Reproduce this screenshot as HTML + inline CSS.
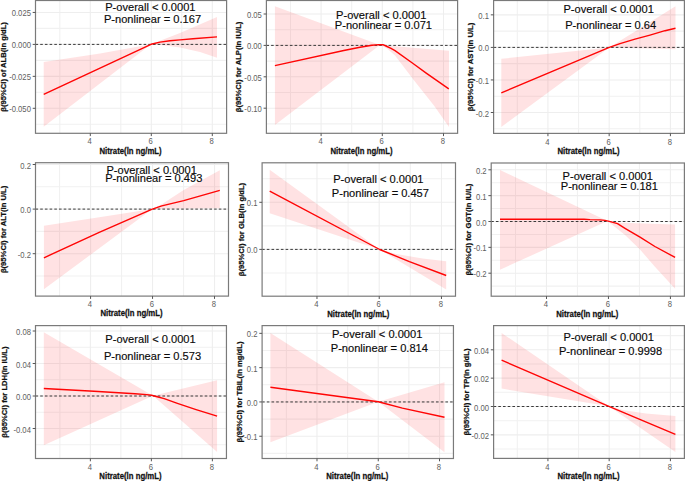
<!DOCTYPE html>
<html><head><meta charset="utf-8"><style>
html,body{margin:0;padding:0;background:#fff;width:685px;height:481px;overflow:hidden}
svg{display:block}
text{font-family:"Liberation Sans",sans-serif}
.gm{stroke:#f1f1f1;stroke-width:1.1}
.gM{stroke:#eeeeee;stroke-width:1.1}
.rb{fill:#ff0008;fill-opacity:0.115;stroke:none}
.dash{stroke:#3a3a3a;stroke-width:1;stroke-dasharray:2.6 2.1}
.ln{stroke:#ff0505;stroke-width:1.4;fill:none;stroke-linejoin:round}
.bd{fill:none;stroke:#7a7a7a;stroke-width:1.2}
.tk{stroke:#555;stroke-width:1}
.yt{font-size:9.7px;fill:#606060;text-anchor:end}
.xt{font-size:9.7px;fill:#606060;text-anchor:middle}
.xl{font-size:8.6px;font-weight:bold;fill:#111;stroke:#111;stroke-width:0.25px;text-anchor:middle}
.yl{font-size:8.0px;font-weight:bold;fill:#111;stroke:#111;stroke-width:0.25px;text-anchor:middle}
.an{fill:#0a0a0a;stroke:#0a0a0a;stroke-width:0.15px;text-anchor:middle;font-size:11.1px}
</style></head>
<body><svg width="685" height="481" viewBox="0 0 685 481">
<rect width="685" height="481" fill="#fff"/>
<clipPath id="c1"><rect x="35.5" y="0.5" width="191.1" height="132.8"/></clipPath>
<g clip-path="url(#c1)">
<line x1="35.5" x2="226.6" y1="28.42" y2="28.42" class="gm"/>
<line x1="35.5" x2="226.6" y1="60.38" y2="60.38" class="gm"/>
<line x1="35.5" x2="226.6" y1="92.32" y2="92.32" class="gm"/>
<line x1="35.5" x2="226.6" y1="124.28" y2="124.28" class="gm"/>
<line y1="0.5" y2="133.3" x1="59.8" x2="59.8" class="gm"/>
<line y1="0.5" y2="133.3" x1="120.8" x2="120.8" class="gm"/>
<line y1="0.5" y2="133.3" x1="181.8" x2="181.8" class="gm"/>
<line x1="35.5" x2="226.6" y1="12.45" y2="12.45" class="gM"/>
<line x1="35.5" x2="226.6" y1="44.4" y2="44.4" class="gM"/>
<line x1="35.5" x2="226.6" y1="76.35" y2="76.35" class="gM"/>
<line x1="35.5" x2="226.6" y1="108.3" y2="108.3" class="gM"/>
<line y1="0.5" y2="133.3" x1="90.3" x2="90.3" class="gM"/>
<line y1="0.5" y2="133.3" x1="151.3" x2="151.3" class="gM"/>
<line y1="0.5" y2="133.3" x1="212.3" x2="212.3" class="gM"/>
<polygon class="rb" points="43.7,62 100,53.6 151,44.3 180,33 217,17 217,57.7 200,52 180,47.6 165,45.6 151,44.3 43.7,126.8"/>
<line x1="35.5" x2="226.6" y1="44.4" y2="44.4" class="dash"/>
<polyline class="ln" points="43.7,94.3 151,44.3 160,42.1 170,40.7 180,39.9 193,38.7 217,36.9"/>
</g>
<rect x="35.5" y="0.5" width="191.1" height="132.8" class="bd"/>
<line x1="32.7" x2="35.5" y1="12.45" y2="12.45" class="tk"/>
<text transform="translate(30.9,16.45) scale(0.79,1)" class="yt">0.025</text>
<line x1="32.7" x2="35.5" y1="44.4" y2="44.4" class="tk"/>
<text transform="translate(30.9,48.4) scale(0.79,1)" class="yt">0.000</text>
<line x1="32.7" x2="35.5" y1="76.35" y2="76.35" class="tk"/>
<text transform="translate(30.9,80.35) scale(0.79,1)" class="yt">-0.025</text>
<line x1="32.7" x2="35.5" y1="108.3" y2="108.3" class="tk"/>
<text transform="translate(30.9,112.3) scale(0.79,1)" class="yt">-0.050</text>
<line y1="133.3" y2="136.1" x1="90.3" x2="90.3" class="tk"/>
<text transform="translate(89.7,144.4) scale(0.79,1)" class="xt">4</text>
<line y1="133.3" y2="136.1" x1="151.3" x2="151.3" class="tk"/>
<text transform="translate(150.7,144.4) scale(0.79,1)" class="xt">6</text>
<line y1="133.3" y2="136.1" x1="212.3" x2="212.3" class="tk"/>
<text transform="translate(211.7,144.4) scale(0.79,1)" class="xt">8</text>
<text transform="translate(130.55,153.6) scale(0.907,1)" class="xl">Nitrate(ln ng/mL)</text>
<text transform="translate(5.9,66.9) rotate(-90) scale(0.956,1)" class="yl">β(95%CI) of ALB(ln g/dL)</text>
<text x="150.35" y="11" class="an">P-overall &lt; 0.0001</text>
<text x="152.5" y="23" class="an">P-nonlinear = 0.167</text>
<clipPath id="c2"><rect x="266.4" y="0.5" width="191.2" height="132.8"/></clipPath>
<g clip-path="url(#c2)">
<line x1="266.4" x2="457.6" y1="29.7" y2="29.7" class="gm"/>
<line x1="266.4" x2="457.6" y1="61.1" y2="61.1" class="gm"/>
<line x1="266.4" x2="457.6" y1="92.5" y2="92.5" class="gm"/>
<line x1="266.4" x2="457.6" y1="123.9" y2="123.9" class="gm"/>
<line y1="0.5" y2="133.3" x1="290.5" x2="290.5" class="gm"/>
<line y1="0.5" y2="133.3" x1="351.7" x2="351.7" class="gm"/>
<line y1="0.5" y2="133.3" x1="412.9" x2="412.9" class="gm"/>
<line x1="266.4" x2="457.6" y1="14" y2="14" class="gM"/>
<line x1="266.4" x2="457.6" y1="45.4" y2="45.4" class="gM"/>
<line x1="266.4" x2="457.6" y1="76.8" y2="76.8" class="gM"/>
<line x1="266.4" x2="457.6" y1="108.2" y2="108.2" class="gM"/>
<line y1="0.5" y2="133.3" x1="321.1" x2="321.1" class="gM"/>
<line y1="0.5" y2="133.3" x1="382.3" x2="382.3" class="gM"/>
<line y1="0.5" y2="133.3" x1="443.5" x2="443.5" class="gM"/>
<polygon class="rb" points="274.9,6.2 380,45 449,50.8 449,126.9 434.3,106 414.5,81 395,55.5 387,48.6 380,45 274.9,124.9"/>
<line x1="266.4" x2="457.6" y1="45.4" y2="45.4" class="dash"/>
<polyline class="ln" points="274.9,65.6 343.8,50.5 360,47.2 372,45.3 378.8,44.6 383,44.7 387,46.5 391,48.3 395,50.6 412.7,63.2 426.2,73.1 436.6,80.4 448.8,88.8"/>
</g>
<rect x="266.4" y="0.5" width="191.2" height="132.8" class="bd"/>
<line x1="263.6" x2="266.4" y1="14" y2="14" class="tk"/>
<text transform="translate(261.8,18) scale(0.79,1)" class="yt">0.05</text>
<line x1="263.6" x2="266.4" y1="45.4" y2="45.4" class="tk"/>
<text transform="translate(261.8,49.4) scale(0.79,1)" class="yt">0.00</text>
<line x1="263.6" x2="266.4" y1="76.8" y2="76.8" class="tk"/>
<text transform="translate(261.8,80.8) scale(0.79,1)" class="yt">-0.05</text>
<line x1="263.6" x2="266.4" y1="108.2" y2="108.2" class="tk"/>
<text transform="translate(261.8,112.2) scale(0.79,1)" class="yt">-0.10</text>
<line y1="133.3" y2="136.1" x1="321.1" x2="321.1" class="tk"/>
<text transform="translate(320.5,144.4) scale(0.79,1)" class="xt">4</text>
<line y1="133.3" y2="136.1" x1="382.3" x2="382.3" class="tk"/>
<text transform="translate(381.7,144.4) scale(0.79,1)" class="xt">6</text>
<line y1="133.3" y2="136.1" x1="443.5" x2="443.5" class="tk"/>
<text transform="translate(442.9,144.4) scale(0.79,1)" class="xt">8</text>
<text transform="translate(361.5,153.6) scale(0.907,1)" class="xl">Nitrate(ln ng/mL)</text>
<text transform="translate(240.9,66.9) rotate(-90) scale(0.956,1)" class="yl">β(95%CI) for ALP(ln IU/L)</text>
<text x="381.25" y="18.8" class="an">P-overall &lt; 0.0001</text>
<text x="383.45" y="29" class="an">P-nonlinear = 0.071</text>
<clipPath id="c3"><rect x="493.6" y="0.5" width="190.8" height="132.9"/></clipPath>
<g clip-path="url(#c3)">
<line x1="493.6" x2="684.4" y1="31.12" y2="31.12" class="gm"/>
<line x1="493.6" x2="684.4" y1="63.67" y2="63.67" class="gm"/>
<line x1="493.6" x2="684.4" y1="96.22" y2="96.22" class="gm"/>
<line x1="493.6" x2="684.4" y1="128.77" y2="128.77" class="gm"/>
<line y1="0.5" y2="133.4" x1="517.31" x2="517.31" class="gm"/>
<line y1="0.5" y2="133.4" x1="578.55" x2="578.55" class="gm"/>
<line y1="0.5" y2="133.4" x1="639.79" x2="639.79" class="gm"/>
<line x1="493.6" x2="684.4" y1="14.85" y2="14.85" class="gM"/>
<line x1="493.6" x2="684.4" y1="47.4" y2="47.4" class="gM"/>
<line x1="493.6" x2="684.4" y1="79.95" y2="79.95" class="gM"/>
<line x1="493.6" x2="684.4" y1="112.5" y2="112.5" class="gM"/>
<line y1="0.5" y2="133.4" x1="547.93" x2="547.93" class="gM"/>
<line y1="0.5" y2="133.4" x1="609.17" x2="609.17" class="gM"/>
<line y1="0.5" y2="133.4" x1="670.41" x2="670.41" class="gM"/>
<polygon class="rb" points="501.3,58.8 609.3,47.4 675.5,6.2 675.5,49.3 609.3,47.4 501.3,127"/>
<line x1="493.6" x2="684.4" y1="47.4" y2="47.4" class="dash"/>
<polyline class="ln" points="501.3,92.9 609.3,47.4 620,43.6 635,39.2 650,35.1 665,30.7 675.5,28.2"/>
</g>
<rect x="493.6" y="0.5" width="190.8" height="132.9" class="bd"/>
<line x1="490.8" x2="493.6" y1="14.85" y2="14.85" class="tk"/>
<text transform="translate(489,18.85) scale(0.79,1)" class="yt">0.1</text>
<line x1="490.8" x2="493.6" y1="47.4" y2="47.4" class="tk"/>
<text transform="translate(489,51.4) scale(0.79,1)" class="yt">0.0</text>
<line x1="490.8" x2="493.6" y1="79.95" y2="79.95" class="tk"/>
<text transform="translate(489,83.95) scale(0.79,1)" class="yt">-0.1</text>
<line x1="490.8" x2="493.6" y1="112.5" y2="112.5" class="tk"/>
<text transform="translate(489,116.5) scale(0.79,1)" class="yt">-0.2</text>
<line y1="133.4" y2="136.2" x1="547.93" x2="547.93" class="tk"/>
<text transform="translate(547.33,144.5) scale(0.79,1)" class="xt">4</text>
<line y1="133.4" y2="136.2" x1="609.17" x2="609.17" class="tk"/>
<text transform="translate(608.57,144.5) scale(0.79,1)" class="xt">6</text>
<line y1="133.4" y2="136.2" x1="670.41" x2="670.41" class="tk"/>
<text transform="translate(669.81,144.5) scale(0.79,1)" class="xt">8</text>
<text transform="translate(588.5,153.7) scale(0.907,1)" class="xl">Nitrate(ln ng/mL)</text>
<text transform="translate(472.8,66.95) rotate(-90) scale(0.956,1)" class="yl">β(95%CI) for AST(ln U/L)</text>
<text x="608.65" y="12.6" class="an">P-overall &lt; 0.0001</text>
<text x="610.7" y="29.3" class="an">P-nonlinear = 0.64</text>
<clipPath id="c4"><rect x="35.5" y="162.7" width="193" height="133.4"/></clipPath>
<g clip-path="url(#c4)">
<line x1="35.5" x2="228.5" y1="186.8" y2="186.8" class="gm"/>
<line x1="35.5" x2="228.5" y1="231.4" y2="231.4" class="gm"/>
<line x1="35.5" x2="228.5" y1="276" y2="276" class="gm"/>
<line y1="162.7" y2="296.1" x1="59.58" x2="59.58" class="gm"/>
<line y1="162.7" y2="296.1" x1="121.55" x2="121.55" class="gm"/>
<line y1="162.7" y2="296.1" x1="183.52" x2="183.52" class="gm"/>
<line x1="35.5" x2="228.5" y1="164.5" y2="164.5" class="gM"/>
<line x1="35.5" x2="228.5" y1="209.1" y2="209.1" class="gM"/>
<line x1="35.5" x2="228.5" y1="253.7" y2="253.7" class="gM"/>
<line y1="162.7" y2="296.1" x1="90.57" x2="90.57" class="gM"/>
<line y1="162.7" y2="296.1" x1="152.54" x2="152.54" class="gM"/>
<line y1="162.7" y2="296.1" x1="214.51" x2="214.51" class="gM"/>
<polygon class="rb" points="43.9,225.7 99.2,217.2 152.3,209.1 161.8,204.2 183.7,190.1 219.8,170.3 219.8,208.2 170,208.8 152.3,209.1 43.9,289.2"/>
<line x1="35.5" x2="228.5" y1="209.1" y2="209.1" class="dash"/>
<polyline class="ln" points="43.9,257.8 99.2,232.4 152.3,209.1 161.8,205.9 183.7,200.6 219.8,190.3"/>
</g>
<rect x="35.5" y="162.7" width="193" height="133.4" class="bd"/>
<line x1="32.7" x2="35.5" y1="164.5" y2="164.5" class="tk"/>
<text transform="translate(30.9,168.5) scale(0.79,1)" class="yt">0.2</text>
<line x1="32.7" x2="35.5" y1="209.1" y2="209.1" class="tk"/>
<text transform="translate(30.9,213.1) scale(0.79,1)" class="yt">0.0</text>
<line x1="32.7" x2="35.5" y1="253.7" y2="253.7" class="tk"/>
<text transform="translate(30.9,257.7) scale(0.79,1)" class="yt">-0.2</text>
<line y1="296.1" y2="298.9" x1="90.57" x2="90.57" class="tk"/>
<text transform="translate(89.97,307.2) scale(0.79,1)" class="xt">4</text>
<line y1="296.1" y2="298.9" x1="152.54" x2="152.54" class="tk"/>
<text transform="translate(151.94,307.2) scale(0.79,1)" class="xt">6</text>
<line y1="296.1" y2="298.9" x1="214.51" x2="214.51" class="tk"/>
<text transform="translate(213.91,307.2) scale(0.79,1)" class="xt">8</text>
<text transform="translate(131.5,316.4) scale(0.907,1)" class="xl">Nitrate(ln ng/mL)</text>
<text transform="translate(6.2,229.4) rotate(-90) scale(0.956,1)" class="yl">β(95%CI) for ALT(ln U/L)</text>
<text x="151.65" y="173.5" class="an">P-overall &lt; 0.0001</text>
<text x="153.8" y="182.2" class="an">P-nonlinear = 0.493</text>
<clipPath id="c5"><rect x="262.1" y="162.8" width="193.4" height="133.4"/></clipPath>
<g clip-path="url(#c5)">
<line x1="262.1" x2="455.5" y1="178.75" y2="178.75" class="gm"/>
<line x1="262.1" x2="455.5" y1="225.85" y2="225.85" class="gm"/>
<line x1="262.1" x2="455.5" y1="272.95" y2="272.95" class="gm"/>
<line y1="162.8" y2="296.2" x1="285.86" x2="285.86" class="gm"/>
<line y1="162.8" y2="296.2" x1="348.1" x2="348.1" class="gm"/>
<line y1="162.8" y2="296.2" x1="410.34" x2="410.34" class="gm"/>
<line x1="262.1" x2="455.5" y1="202.3" y2="202.3" class="gM"/>
<line x1="262.1" x2="455.5" y1="249.4" y2="249.4" class="gM"/>
<line y1="162.8" y2="296.2" x1="316.98" x2="316.98" class="gM"/>
<line y1="162.8" y2="296.2" x1="379.22" x2="379.22" class="gM"/>
<line y1="162.8" y2="296.2" x1="441.46" x2="441.46" class="gM"/>
<polygon class="rb" points="269.7,169.7 379.7,249.5 396.3,254 422.6,258.4 446.2,261.3 446.2,289.5 379.7,249.5 269.7,213.3"/>
<line x1="262.1" x2="455.5" y1="249.4" y2="249.4" class="dash"/>
<polyline class="ln" points="269.7,191.2 379.7,249.5 409.4,261.6 446.2,275.5"/>
</g>
<rect x="262.1" y="162.8" width="193.4" height="133.4" class="bd"/>
<line x1="259.3" x2="262.1" y1="202.3" y2="202.3" class="tk"/>
<text transform="translate(257.5,206.3) scale(0.79,1)" class="yt">0.1</text>
<line x1="259.3" x2="262.1" y1="249.4" y2="249.4" class="tk"/>
<text transform="translate(257.5,253.4) scale(0.79,1)" class="yt">0.0</text>
<line y1="296.2" y2="299" x1="316.98" x2="316.98" class="tk"/>
<text transform="translate(316.38,307.3) scale(0.79,1)" class="xt">4</text>
<line y1="296.2" y2="299" x1="379.22" x2="379.22" class="tk"/>
<text transform="translate(378.62,307.3) scale(0.79,1)" class="xt">6</text>
<line y1="296.2" y2="299" x1="441.46" x2="441.46" class="tk"/>
<text transform="translate(440.86,307.3) scale(0.79,1)" class="xt">8</text>
<text transform="translate(358.3,316.5) scale(0.907,1)" class="xl">Nitrate(ln ng/mL)</text>
<text transform="translate(244,229.5) rotate(-90) scale(0.956,1)" class="yl">β(95%CI) for GLB(ln g/dL)</text>
<text x="378.35" y="183.2" class="an">P-overall &lt; 0.0001</text>
<text x="380.4" y="197.2" class="an">P-nonlinear = 0.457</text>
<clipPath id="c6"><rect x="491.2" y="163" width="193.2" height="133.2"/></clipPath>
<g clip-path="url(#c6)">
<line x1="491.2" x2="684.4" y1="182.72" y2="182.72" class="gm"/>
<line x1="491.2" x2="684.4" y1="208.57" y2="208.57" class="gm"/>
<line x1="491.2" x2="684.4" y1="234.43" y2="234.43" class="gm"/>
<line x1="491.2" x2="684.4" y1="260.27" y2="260.27" class="gm"/>
<line x1="491.2" x2="684.4" y1="286.12" y2="286.12" class="gm"/>
<line y1="163" y2="296.2" x1="515.51" x2="515.51" class="gm"/>
<line y1="163" y2="296.2" x1="577.47" x2="577.47" class="gm"/>
<line y1="163" y2="296.2" x1="639.43" x2="639.43" class="gm"/>
<line x1="491.2" x2="684.4" y1="169.8" y2="169.8" class="gM"/>
<line x1="491.2" x2="684.4" y1="195.65" y2="195.65" class="gM"/>
<line x1="491.2" x2="684.4" y1="221.5" y2="221.5" class="gM"/>
<line x1="491.2" x2="684.4" y1="247.35" y2="247.35" class="gM"/>
<line x1="491.2" x2="684.4" y1="273.2" y2="273.2" class="gM"/>
<line y1="163" y2="296.2" x1="546.49" x2="546.49" class="gM"/>
<line y1="163" y2="296.2" x1="608.45" x2="608.45" class="gM"/>
<line y1="163" y2="296.2" x1="670.41" x2="670.41" class="gM"/>
<polygon class="rb" points="500,170 607.5,221 621.2,222.8 675.1,224.6 675.1,288.8 654.9,266.8 640,249.5 625,235 607.5,221 500,269.7"/>
<line x1="491.2" x2="684.4" y1="221.5" y2="221.5" class="dash"/>
<polyline class="ln" points="500,219.2 584,219.2 590,219.6 600,219.9 605,220.4 609.3,221.4 617.5,223.7 625,228.3 640,237.2 654.9,246.5 675.1,257.4"/>
</g>
<rect x="491.2" y="163" width="193.2" height="133.2" class="bd"/>
<line x1="488.4" x2="491.2" y1="169.8" y2="169.8" class="tk"/>
<text transform="translate(486.6,173.8) scale(0.79,1)" class="yt">0.2</text>
<line x1="488.4" x2="491.2" y1="195.65" y2="195.65" class="tk"/>
<text transform="translate(486.6,199.65) scale(0.79,1)" class="yt">0.1</text>
<line x1="488.4" x2="491.2" y1="221.5" y2="221.5" class="tk"/>
<text transform="translate(486.6,225.5) scale(0.79,1)" class="yt">0.0</text>
<line x1="488.4" x2="491.2" y1="247.35" y2="247.35" class="tk"/>
<text transform="translate(486.6,251.35) scale(0.79,1)" class="yt">-0.1</text>
<line x1="488.4" x2="491.2" y1="273.2" y2="273.2" class="tk"/>
<text transform="translate(486.6,277.2) scale(0.79,1)" class="yt">-0.2</text>
<line y1="296.2" y2="299" x1="546.49" x2="546.49" class="tk"/>
<text transform="translate(545.89,307.3) scale(0.79,1)" class="xt">4</text>
<line y1="296.2" y2="299" x1="608.45" x2="608.45" class="tk"/>
<text transform="translate(607.85,307.3) scale(0.79,1)" class="xt">6</text>
<line y1="296.2" y2="299" x1="670.41" x2="670.41" class="tk"/>
<text transform="translate(669.81,307.3) scale(0.79,1)" class="xt">8</text>
<text transform="translate(587.3,316.5) scale(0.907,1)" class="xl">Nitrate(ln ng/mL)</text>
<text transform="translate(470.8,229.6) rotate(-90) scale(0.956,1)" class="yl">β(95%CI) for GGT(ln IU/L)</text>
<text x="607.75" y="179.8" class="an">P-overall &lt; 0.0001</text>
<text x="609.35" y="190.4" class="an">P-nonlinear = 0.181</text>
<clipPath id="c7"><rect x="35.5" y="325.6" width="190.95" height="132.9"/></clipPath>
<g clip-path="url(#c7)">
<line x1="35.5" x2="226.45" y1="347.25" y2="347.25" class="gm"/>
<line x1="35.5" x2="226.45" y1="379.75" y2="379.75" class="gm"/>
<line x1="35.5" x2="226.45" y1="412.25" y2="412.25" class="gm"/>
<line x1="35.5" x2="226.45" y1="444.75" y2="444.75" class="gm"/>
<line y1="325.6" y2="458.5" x1="59.86" x2="59.86" class="gm"/>
<line y1="325.6" y2="458.5" x1="120.86" x2="120.86" class="gm"/>
<line y1="325.6" y2="458.5" x1="181.86" x2="181.86" class="gm"/>
<line x1="35.5" x2="226.45" y1="331" y2="331" class="gM"/>
<line x1="35.5" x2="226.45" y1="363.5" y2="363.5" class="gM"/>
<line x1="35.5" x2="226.45" y1="396" y2="396" class="gM"/>
<line x1="35.5" x2="226.45" y1="428.5" y2="428.5" class="gM"/>
<line y1="325.6" y2="458.5" x1="90.36" x2="90.36" class="gM"/>
<line y1="325.6" y2="458.5" x1="151.36" x2="151.36" class="gM"/>
<line y1="325.6" y2="458.5" x1="212.36" x2="212.36" class="gM"/>
<polygon class="rb" points="43.8,332.2 153,395.7 217.1,380.3 217.1,452.1 153,395.7 43.8,445.2"/>
<line x1="35.5" x2="226.45" y1="396" y2="396" class="dash"/>
<polyline class="ln" points="43.8,388.5 94,391.2 135,393.8 146.7,394.6 151.6,395.2 157.2,396.7 164.2,398.7 177.4,403.4 196.1,409.6 217.1,416.2"/>
</g>
<rect x="35.5" y="325.6" width="190.95" height="132.9" class="bd"/>
<line x1="32.7" x2="35.5" y1="331" y2="331" class="tk"/>
<text transform="translate(30.9,335) scale(0.79,1)" class="yt">0.08</text>
<line x1="32.7" x2="35.5" y1="363.5" y2="363.5" class="tk"/>
<text transform="translate(30.9,367.5) scale(0.79,1)" class="yt">0.04</text>
<line x1="32.7" x2="35.5" y1="396" y2="396" class="tk"/>
<text transform="translate(30.9,400) scale(0.79,1)" class="yt">0.00</text>
<line x1="32.7" x2="35.5" y1="428.5" y2="428.5" class="tk"/>
<text transform="translate(30.9,432.5) scale(0.79,1)" class="yt">-0.04</text>
<line y1="458.5" y2="461.3" x1="90.36" x2="90.36" class="tk"/>
<text transform="translate(89.76,469.6) scale(0.79,1)" class="xt">4</text>
<line y1="458.5" y2="461.3" x1="151.36" x2="151.36" class="tk"/>
<text transform="translate(150.76,469.6) scale(0.79,1)" class="xt">6</text>
<line y1="458.5" y2="461.3" x1="212.36" x2="212.36" class="tk"/>
<text transform="translate(211.76,469.6) scale(0.79,1)" class="xt">8</text>
<text transform="translate(130.47,478.8) scale(0.907,1)" class="xl">Nitrate(ln ng/mL)</text>
<text transform="translate(6.55,392.05) rotate(-90) scale(0.956,1)" class="yl">β(95%CI) for LDH(ln IU/L)</text>
<text x="150.5" y="343.3" class="an">P-overall &lt; 0.0001</text>
<text x="152.5" y="359.6" class="an">P-nonlinear = 0.573</text>
<clipPath id="c8"><rect x="262.1" y="325.6" width="191.35" height="132.9"/></clipPath>
<g clip-path="url(#c8)">
<line x1="262.1" x2="453.45" y1="350.5" y2="350.5" class="gm"/>
<line x1="262.1" x2="453.45" y1="384.8" y2="384.8" class="gm"/>
<line x1="262.1" x2="453.45" y1="419.1" y2="419.1" class="gm"/>
<line x1="262.1" x2="453.45" y1="453.4" y2="453.4" class="gm"/>
<line y1="325.6" y2="458.5" x1="286.36" x2="286.36" class="gm"/>
<line y1="325.6" y2="458.5" x1="347.62" x2="347.62" class="gm"/>
<line y1="325.6" y2="458.5" x1="408.88" x2="408.88" class="gm"/>
<line x1="262.1" x2="453.45" y1="333.35" y2="333.35" class="gM"/>
<line x1="262.1" x2="453.45" y1="367.65" y2="367.65" class="gM"/>
<line x1="262.1" x2="453.45" y1="401.95" y2="401.95" class="gM"/>
<line x1="262.1" x2="453.45" y1="436.25" y2="436.25" class="gM"/>
<line y1="325.6" y2="458.5" x1="316.99" x2="316.99" class="gM"/>
<line y1="325.6" y2="458.5" x1="378.25" x2="378.25" class="gM"/>
<line y1="325.6" y2="458.5" x1="439.51" x2="439.51" class="gM"/>
<polygon class="rb" points="270.4,333.1 378.3,401.8 444.5,382.2 444.5,452.3 378.3,401.8 270.4,442.2"/>
<line x1="262.1" x2="453.45" y1="401.95" y2="401.95" class="dash"/>
<polyline class="ln" points="270.4,387.2 378.3,401.8 402.4,408.1 444.5,417.2"/>
</g>
<rect x="262.1" y="325.6" width="191.35" height="132.9" class="bd"/>
<line x1="259.3" x2="262.1" y1="333.35" y2="333.35" class="tk"/>
<text transform="translate(257.5,337.35) scale(0.79,1)" class="yt">0.2</text>
<line x1="259.3" x2="262.1" y1="367.65" y2="367.65" class="tk"/>
<text transform="translate(257.5,371.65) scale(0.79,1)" class="yt">0.1</text>
<line x1="259.3" x2="262.1" y1="401.95" y2="401.95" class="tk"/>
<text transform="translate(257.5,405.95) scale(0.79,1)" class="yt">0.0</text>
<line x1="259.3" x2="262.1" y1="436.25" y2="436.25" class="tk"/>
<text transform="translate(257.5,440.25) scale(0.79,1)" class="yt">-0.1</text>
<line y1="458.5" y2="461.3" x1="316.99" x2="316.99" class="tk"/>
<text transform="translate(316.39,469.6) scale(0.79,1)" class="xt">4</text>
<line y1="458.5" y2="461.3" x1="378.25" x2="378.25" class="tk"/>
<text transform="translate(377.65,469.6) scale(0.79,1)" class="xt">6</text>
<line y1="458.5" y2="461.3" x1="439.51" x2="439.51" class="tk"/>
<text transform="translate(438.91,469.6) scale(0.79,1)" class="xt">8</text>
<text transform="translate(357.27,478.8) scale(0.907,1)" class="xl">Nitrate(ln ng/mL)</text>
<text transform="translate(242.15,392.05) rotate(-90) scale(0.956,1)" class="yl">β(95%CI) for TBIL(ln mg/dL)</text>
<text x="377.15" y="338.2" class="an">P-overall &lt; 0.0001</text>
<text x="379.35" y="352" class="an">P-nonlinear = 0.814</text>
<clipPath id="c9"><rect x="493.6" y="325.6" width="190.8" height="132.8"/></clipPath>
<g clip-path="url(#c9)">
<line x1="493.6" x2="684.4" y1="335.62" y2="335.62" class="gm"/>
<line x1="493.6" x2="684.4" y1="363.98" y2="363.98" class="gm"/>
<line x1="493.6" x2="684.4" y1="392.32" y2="392.32" class="gm"/>
<line x1="493.6" x2="684.4" y1="420.68" y2="420.68" class="gm"/>
<line x1="493.6" x2="684.4" y1="449.02" y2="449.02" class="gm"/>
<line y1="325.6" y2="458.4" x1="517.31" x2="517.31" class="gm"/>
<line y1="325.6" y2="458.4" x1="578.55" x2="578.55" class="gm"/>
<line y1="325.6" y2="458.4" x1="639.79" x2="639.79" class="gm"/>
<line x1="493.6" x2="684.4" y1="349.8" y2="349.8" class="gM"/>
<line x1="493.6" x2="684.4" y1="378.15" y2="378.15" class="gM"/>
<line x1="493.6" x2="684.4" y1="406.5" y2="406.5" class="gM"/>
<line x1="493.6" x2="684.4" y1="434.85" y2="434.85" class="gM"/>
<line y1="325.6" y2="458.4" x1="547.93" x2="547.93" class="gM"/>
<line y1="325.6" y2="458.4" x1="609.17" x2="609.17" class="gM"/>
<line y1="325.6" y2="458.4" x1="670.41" x2="670.41" class="gM"/>
<polygon class="rb" points="501.6,332.9 608.9,406.3 624.1,410.2 646,413.4 675.4,415.9 675.4,451.9 608.9,406.3 501.6,388.6"/>
<line x1="493.6" x2="684.4" y1="406.5" y2="406.5" class="dash"/>
<polyline class="ln" points="501.6,360.2 608.9,406.3 675.4,434.4"/>
</g>
<rect x="493.6" y="325.6" width="190.8" height="132.8" class="bd"/>
<line x1="490.8" x2="493.6" y1="349.8" y2="349.8" class="tk"/>
<text transform="translate(489,353.8) scale(0.79,1)" class="yt">0.04</text>
<line x1="490.8" x2="493.6" y1="378.15" y2="378.15" class="tk"/>
<text transform="translate(489,382.15) scale(0.79,1)" class="yt">0.02</text>
<line x1="490.8" x2="493.6" y1="406.5" y2="406.5" class="tk"/>
<text transform="translate(489,410.5) scale(0.79,1)" class="yt">0.00</text>
<line x1="490.8" x2="493.6" y1="434.85" y2="434.85" class="tk"/>
<text transform="translate(489,438.85) scale(0.79,1)" class="yt">-0.02</text>
<line y1="458.4" y2="461.2" x1="547.93" x2="547.93" class="tk"/>
<text transform="translate(547.33,469.5) scale(0.79,1)" class="xt">4</text>
<line y1="458.4" y2="461.2" x1="609.17" x2="609.17" class="tk"/>
<text transform="translate(608.57,469.5) scale(0.79,1)" class="xt">6</text>
<line y1="458.4" y2="461.2" x1="670.41" x2="670.41" class="tk"/>
<text transform="translate(669.81,469.5) scale(0.79,1)" class="xt">8</text>
<text transform="translate(588.5,478.7) scale(0.907,1)" class="xl">Nitrate(ln ng/mL)</text>
<text transform="translate(468.6,392) rotate(-90) scale(0.956,1)" class="yl">β(95%CI) for TP(ln g/dL)</text>
<text x="608.7" y="340.6" class="an">P-overall &lt; 0.0001</text>
<text x="610.55" y="354.9" class="an">P-nonlinear = 0.9998</text>
</svg></body></html>
